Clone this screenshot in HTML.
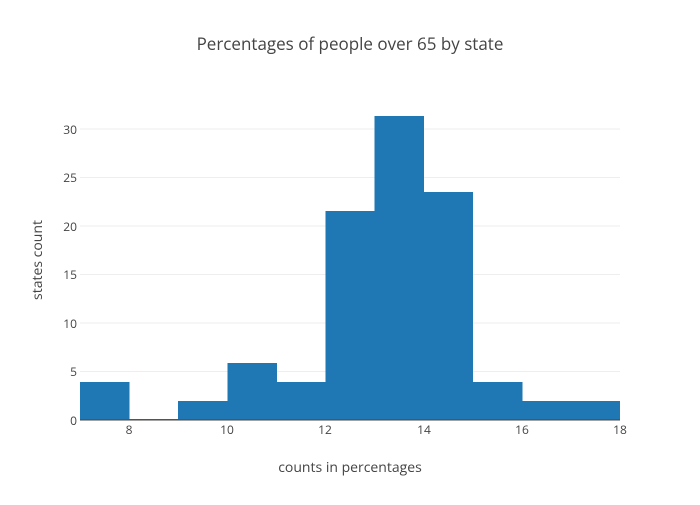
<!DOCTYPE html>
<html><head><style>body{margin:0;background:#fff}</style></head><body>
<svg width="700" height="500" xmlns="http://www.w3.org/2000/svg" font-family="'Open Sans','Liberation Sans',sans-serif">
<rect width="700" height="500" fill="#fff"/>
<g stroke="#eee" stroke-width="1">
<line x1="80" x2="620" y1="371.5" y2="371.5"/>
<line x1="80" x2="620" y1="323" y2="323"/>
<line x1="80" x2="620" y1="274.5" y2="274.5"/>
<line x1="80" x2="620" y1="226" y2="226"/>
<line x1="80" x2="620" y1="177.5" y2="177.5"/>
<line x1="80" x2="620" y1="129" y2="129"/>
</g>
<g fill="#1f77b4" shape-rendering="crispEdges">
<rect x="80" y="382" width="49.5" height="38"/>
<rect x="129.1" y="419" width="49.5" height="1"/>
<rect x="178.2" y="401" width="49.5" height="19"/>
<rect x="227.3" y="363" width="49.5" height="57"/>
<rect x="276.4" y="382" width="49.5" height="38"/>
<rect x="325.5" y="211" width="49.5" height="209"/>
<rect x="374.6" y="116" width="49.5" height="304"/>
<rect x="423.7" y="192" width="49.5" height="228"/>
<rect x="472.8" y="382" width="49.5" height="38"/>
<rect x="521.9" y="401" width="49.5" height="19"/>
<rect x="571" y="401" width="49" height="19"/>
</g>
<line x1="80" x2="620" y1="420" y2="420" stroke="#444" stroke-width="1"/>
<g font-size="12" fill="#444" text-anchor="end">
<text x="77" y="425">0</text>
<text x="77" y="376">5</text>
<text x="77" y="328">10</text>
<text x="77" y="279">15</text>
<text x="77" y="231">20</text>
<text x="77" y="182">25</text>
<text x="77" y="134">30</text>
</g>
<g font-size="12" fill="#444" text-anchor="middle">
<text x="129" y="434">8</text>
<text x="227" y="434">10</text>
<text x="325" y="434">12</text>
<text x="424" y="434">14</text>
<text x="522" y="434">16</text>
<text x="620" y="434">18</text>
</g>
<text x="350" y="50" font-size="17" fill="#444" text-anchor="middle">Percentages of people over 65 by state</text>
<text x="350" y="472" font-size="14" fill="#444" text-anchor="middle">counts in percentages</text>
<text x="42" y="260" font-size="14" fill="#444" text-anchor="middle" transform="rotate(-90 42 260)">states count</text>
</svg>
</body></html>
